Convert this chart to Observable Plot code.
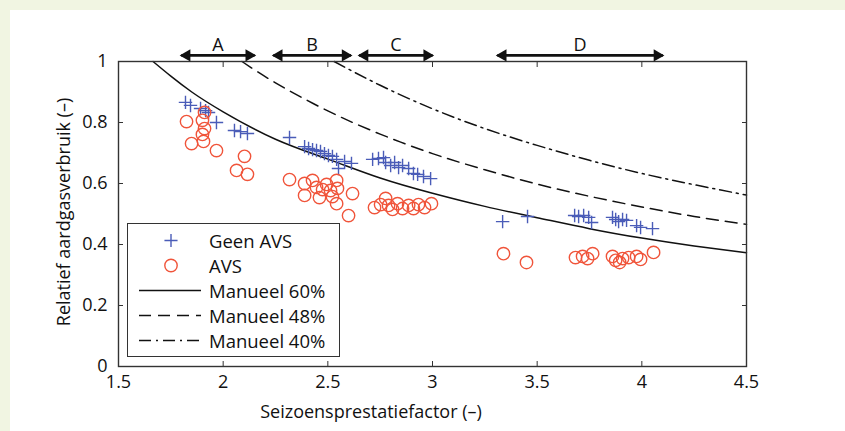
<!DOCTYPE html>
<html><head><meta charset="utf-8">
<script src="https://cdn.jsdelivr.net/npm/d3@7"></script>
<script src="https://cdn.jsdelivr.net/npm/@observablehq/plot@0.6"></script>
<style>
html,body{margin:0;padding:0;width:845px;height:431px;overflow:hidden;background:#f1f5e2;}
#panel{position:absolute;left:10px;top:10px;right:0;bottom:0;background:#fff;}
#chart{position:absolute;left:0;top:0;}
#legend{position:absolute;left:127px;top:223px;width:211px;height:132px;border:1.3px solid #333;background:#fff;font-family:"Open Sans";font-size:18.5px;color:#111;}
.row{position:absolute;left:0;width:211px;height:25px;}
.row svg{position:absolute;left:0;top:0;}
.row span{position:absolute;left:81px;top:0;line-height:25px;white-space:nowrap;}
</style></head>
<body><div id="panel"></div><div id="chart"></div><div id="legend"></div>
<script>
// Geen AVS (+)
const geenX = [1.82,1.844,1.892,1.916,1.93,1.968,2.054,2.083,2.116,
  2.317,2.389,2.408,2.427,2.446,2.465,2.484,2.503,2.522,2.542,2.551,2.58,2.613,
  2.714,2.742,2.766,2.776,2.80,2.819,2.838,2.857,2.886,2.909,2.929,2.957,2.991,
  3.335,3.454,3.679,3.698,3.722,3.746,3.760,3.860,3.875,3.889,3.908,3.927,3.975,3.994,4.051];
const geenY = [0.866,0.856,0.846,0.839,0.833,0.80,0.774,0.770,0.764,
  0.751,0.721,0.715,0.711,0.708,0.705,0.698,0.692,0.689,0.679,0.649,0.672,0.666,
  0.679,0.682,0.685,0.669,0.659,0.669,0.652,0.659,0.649,0.633,0.630,0.623,0.616,
  0.475,0.492,0.495,0.492,0.495,0.489,0.472,0.489,0.482,0.475,0.482,0.479,0.462,0.456,0.452];
// AVS (o)
const avsX = [1.825,1.911,1.901,1.911,1.901,1.849,1.906,1.968,2.102,2.064,2.116,
  2.317,2.389,2.427,2.446,2.475,2.494,2.513,2.542,2.546,2.389,2.460,2.522,2.542,2.618,2.599,
  2.723,2.752,2.776,2.790,2.809,2.833,2.857,2.886,2.909,2.933,2.962,2.995,
  3.339,3.449,3.683,3.717,3.765,3.741,3.860,3.875,3.894,3.908,3.937,3.975,3.994,4.056];
const avsY = [0.803,0.833,0.807,0.780,0.761,0.731,0.738,0.708,0.689,0.643,0.630,
  0.613,0.600,0.610,0.587,0.580,0.597,0.577,0.610,0.584,0.561,0.554,0.557,0.534,0.567,0.495,
  0.521,0.531,0.551,0.528,0.515,0.534,0.518,0.528,0.518,0.531,0.521,0.534,
  0.370,0.341,0.357,0.361,0.370,0.354,0.361,0.348,0.341,0.354,0.357,0.361,0.351,0.374];
// Manueel curves
const m60X = [1.665,1.75,1.85,2.0,2.25,2.5,2.75,3.0,3.25,3.5,3.75,4.0,4.25,4.5];
const m60Y = [1.0,0.952,0.9,0.835,0.745,0.68,0.618,0.568,0.525,0.488,0.452,0.421,0.395,0.373];
const m48X = [2.09,2.25,2.5,2.75,3.0,3.25,3.5,3.75,4.0,4.25,4.5];
const m48Y = [1.0,0.93,0.838,0.762,0.698,0.645,0.598,0.558,0.523,0.492,0.466];
const m40X = [2.53,2.75,3.0,3.25,3.5,3.75,4.0,4.25,4.5];
const m40Y = [1.0,0.922,0.845,0.78,0.725,0.676,0.633,0.596,0.562];
// Ranges A-D
const rangeNames = ["A","B","C","D"];
const rangeFrom = [1.8,2.24,2.65,3.31];
const rangeTo = [2.15,2.61,3.0,4.1];
// Ticks
const xTicks = [1.5,2,2.5,3,3.5,4,4.5];
const xTickLabels = ["1.5","2","2.5","3","3.5","4","4.5"];
const yTicks = [0,0.2,0.4,0.6,0.8,1];
const yTickLabels = ["0","0.2","0.4","0.6","0.8","1"];
const seriesNames = ["Geen AVS","AVS","Manueel 60%","Manueel 48%","Manueel 40%"];
const xLabel = "Seizoensprestatiefactor (–)";
const yLabel = "Relatief aardgasverbruik (–)";

const blue = "#4a5cb8", red = "#f0543a", ink = "#111";
const zip = (xs, ys) => xs.map((x, i) => ({x, y: ys[i]}));
const geen = zip(geenX, geenY), avs = zip(avsX, avsY);
const c60 = zip(m60X, m60Y), c48 = zip(m48X, m48Y), c40 = zip(m40X, m40Y);
const ranges = rangeNames.map((k, i) => ({k, x1: rangeFrom[i], x2: rangeTo[i]}));
const arrowY = 1.02, letterY = 1.052;

const chart = Plot.plot({
  width: 845, height: 431,
  marginLeft: 118, marginRight: 99, marginTop: 61, marginBottom: 65,
  style: {fontFamily: "Open Sans", fontSize: "18px", background: "transparent", overflow: "visible", color: ink},
  x: {domain: [1.5, 4.5]},
  y: {domain: [0, 1]},
  marks: [
    Plot.line(c60, {x: "x", y: "y", curve: "natural", stroke: ink, strokeWidth: 1.5}),
    Plot.line(c48, {x: "x", y: "y", curve: "natural", stroke: ink, strokeWidth: 1.5, strokeDasharray: "12,7"}),
    Plot.line(c40, {x: "x", y: "y", curve: "natural", stroke: ink, strokeWidth: 1.5, strokeDasharray: "12,5,2,5"}),
    Plot.dot(geen, {x: "x", y: "y", symbol: "plus", r: 4.4, stroke: blue, strokeWidth: 1.4}),
    Plot.dot(avs, {x: "x", y: "y", r: 6.2, stroke: red, fill: "none", strokeWidth: 1.4}),
    Plot.frame({stroke: "#333", strokeWidth: 1.4}),
    Plot.axisX(xTicks, {anchor: "bottom", tickSize: 0, tickPadding: 9, tickFormat: (d, i) => xTickLabels[i], label: null}),
    Plot.axisX(xTicks, {anchor: "bottom", tickSize: -5, tickFormat: () => "", label: null, stroke: "#333"}),
    Plot.axisX(xTicks, {anchor: "top", tickSize: -5, tickFormat: () => "", label: null, stroke: "#333"}),
    Plot.axisY(yTicks, {anchor: "left", tickSize: 0, tickPadding: 11, tickFormat: (d, i) => yTickLabels[i], label: null}),
    Plot.axisY(yTicks, {anchor: "left", tickSize: -5, tickFormat: () => "", label: null, stroke: "#333"}),
    Plot.axisY(yTicks, {anchor: "right", tickSize: -5, tickFormat: () => "", label: null, stroke: "#333"}),
    Plot.link(ranges, {x1: "x1", x2: "x2", y1: () => arrowY, y2: () => arrowY, stroke: "#111", strokeWidth: 2.6}),
    Plot.dot(ranges, {x: "x2", y: () => arrowY, symbol: "triangle", r: 4.6, rotate: 90, fill: "#111", dx: -5.5}),
    Plot.dot(ranges, {x: "x1", y: () => arrowY, symbol: "triangle", r: 4.6, rotate: -90, fill: "#111", dx: 5.5}),
    Plot.text(ranges, {x: d => (d.x1 + d.x2) / 2, y: () => letterY, text: "k", fontSize: 18, fill: ink})
  ]
});
const svg = d3.select(chart);
svg.append("text").attr("x", 371).attr("y", 418).attr("text-anchor", "middle")
  .attr("font-family", "Open Sans").attr("font-size", 18).attr("fill", ink).text(xLabel);
svg.append("text").attr("transform", "translate(70,212) rotate(-90)").attr("text-anchor", "middle")
  .attr("font-family", "Open Sans").attr("font-size", 18).attr("fill", ink).text(yLabel);
document.getElementById("chart").appendChild(chart);

// Legend
const legend = document.getElementById("legend");
seriesNames.forEach((name, i) => {
  const row = document.createElement("div");
  row.className = "row";
  row.style.top = (4 + i * 25) + "px";
  const s = d3.create("svg").attr("width", 80).attr("height", 25);
  if (i === 0) {
    s.append("path").attr("d", d3.symbol(d3.symbolPlus, 58)()).attr("transform", "translate(43,12.5)")
      .attr("fill", "none").attr("stroke", blue).attr("stroke-width", 1.4);
  } else if (i === 1) {
    s.append("circle").attr("cx", 43).attr("cy", 12.5).attr("r", 6.2).attr("fill", "none").attr("stroke", red).attr("stroke-width", 1.4);
  } else {
    const dash = [null, null, null, "12,7", "12,5,2,5"][i];
    s.append("line").attr("x1", 11).attr("x2", 73).attr("y1", 12.5).attr("y2", 12.5)
      .attr("stroke", ink).attr("stroke-width", 1.5).attr("stroke-dasharray", dash);
  }
  row.appendChild(s.node());
  const t = document.createElement("span");
  t.textContent = name;
  row.appendChild(t);
  legend.appendChild(row);
});
</script></body></html>
